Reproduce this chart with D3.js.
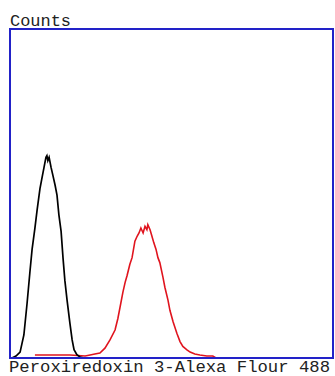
<!doctype html>
<html>
<head>
  <meta charset="UTF-8" />
  <title>Peroxiredoxin 3 flow histogram</title>
  <style>
    html, body { margin: 0; padding: 0; background: #fff; }
    svg { display: block; }
    .lbl { font-family: "Liberation Mono", "DejaVu Sans Mono", monospace; font-size: 16px; fill: #222; }
  </style>
</head>
<body>
  <script src="https://cdn.jsdelivr.net/npm/d3@7/dist/d3.min.js"></script>
  <script>
    // data: fluorescence channel (0-1024) vs counts
    const yLabel = 'Counts';
    const xLabel = 'Peroxiredoxin 3-Alexa Flour 488';

    const controlX = [0, 6, 19, 32, 44, 54, 63, 70, 79, 86, 95, 101, 108, 114, 117, 120, 124, 130, 136, 143, 149, 155, 162, 168, 174, 181, 190, 197, 203, 212, 222, 235];
    const controlY = [0, 0, 1.2, 3.6, 14, 33, 52, 66, 79, 90, 103, 109, 116, 122, 123, 120, 122, 116, 111, 105, 99, 87, 77, 61, 47, 35, 21, 11, 5, 2, 0.6, 0];

    const sampleX = [79, 127, 190, 238, 254, 269, 285, 301, 317, 333, 342, 349, 358, 365, 371, 380, 387, 396, 403, 409, 415, 422, 428, 434, 437, 444, 450, 456, 463, 469, 475, 485, 491, 501, 507, 517, 529, 539, 548, 561, 571, 586, 602, 624, 643, 653];
    const sampleY = [1.8, 1.8, 1.8, 1.2, 1.8, 2.4, 3, 6, 11, 17, 24, 31, 40, 46, 50, 57, 61, 71, 74, 76, 79, 76, 80, 78, 81, 78, 74, 70, 66, 61, 58, 49, 43, 35, 29, 22, 15, 10, 7, 5, 3.6, 2.4, 1.8, 1.2, 1.2, 0];

    const W = 335, H = 376;
    const m = { left: 10, top: 29, right: 2, bottom: 18 };

    const svg = d3.select('body').append('svg')
      .attr('width', W)
      .attr('height', H);

    const x = d3.scaleLinear().domain([0, 1024]).range([m.left, W - m.right]);
    const y = d3.scaleLinear().domain([0, 200]).range([H - m.bottom, m.top]);

    const line = d3.line()
      .x(d => x(d[0]))
      .y(d => y(d[1]));

    svg.append('path')
      .datum(d3.zip(sampleX, sampleY))
      .attr('fill', 'none')
      .attr('stroke', '#e0141e')
      .attr('stroke-width', 1.6)
      .attr('d', line);

    svg.append('path')
      .datum(d3.zip(controlX, controlY))
      .attr('fill', 'none')
      .attr('stroke', '#000')
      .attr('stroke-width', 1.7)
      .attr('d', line);

    // frame
    svg.append('rect')
      .attr('x', x(0))
      .attr('y', y(200))
      .attr('width', x(1024) - x(0))
      .attr('height', y(0) - y(200))
      .attr('fill', 'none')
      .attr('stroke', '#2222c8')
      .attr('stroke-width', 2);

    svg.append('text')
      .attr('class', 'lbl')
      .attr('x', m.left)
      .attr('y', m.top - 3)
      .attr('textLength', 61)
      .attr('lengthAdjust', 'spacingAndGlyphs')
      .text(yLabel);

    svg.append('text')
      .attr('class', 'lbl')
      .attr('x', m.left - 1)
      .attr('y', H - 4)
      .attr('textLength', 321)
      .attr('lengthAdjust', 'spacingAndGlyphs')
      .text(xLabel);
  </script>
</body>
</html>
